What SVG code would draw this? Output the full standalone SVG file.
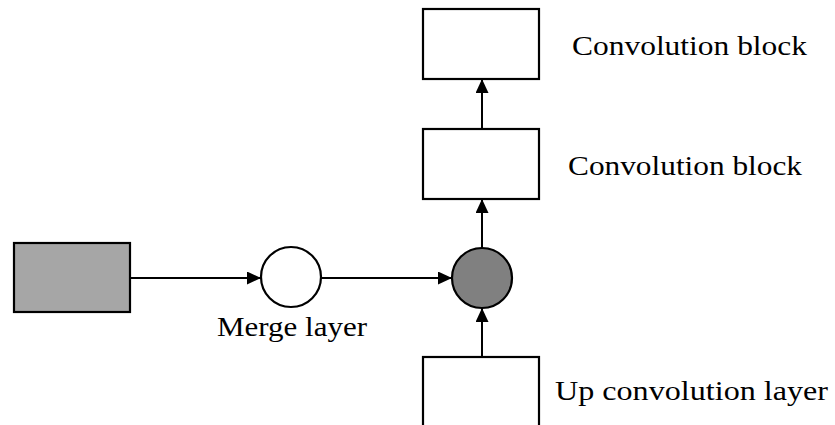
<svg xmlns="http://www.w3.org/2000/svg" width="835" height="425" viewBox="0 0 835 425">
  <style>
    .box { fill: #ffffff; stroke: #000000; stroke-width: 2.2; }
    .input { fill: #a6a6a6; stroke: #000000; stroke-width: 2.2; }
    .merge { fill: #ffffff; stroke: #000000; stroke-width: 2.2; }
    .sum { fill: #808080; stroke: #000000; stroke-width: 2.2; }
    .link { fill: none; stroke: #000000; stroke-width: 2; marker-end: url(#arrow); }
    .label { font-family: "Liberation Serif", "Times New Roman", serif; font-size: 27px; fill: #000000; }
  </style>
  <defs>
    <marker id="arrow" markerUnits="userSpaceOnUse" markerWidth="14" markerHeight="13" refX="14" refY="6.5" orient="auto">
      <path d="M0,0 L14,6.5 L0,13 z" fill="#000000"/>
    </marker>
  </defs>

  <rect width="835" height="425" fill="#ffffff"/>

  <!-- connectors -->
  <g id="connectors">
    <line class="link" x1="130" y1="278" x2="261" y2="278"/>
    <line class="link" x1="321" y1="278" x2="452" y2="278"/>
    <line class="link" x1="482" y1="357" x2="482" y2="308"/>
    <line class="link" x1="482" y1="248" x2="482" y2="199"/>
    <line class="link" x1="482" y1="129" x2="482" y2="79"/>
  </g>

  <!-- feature map input -->
  <g id="input">
    <rect class="input" x="14" y="243" width="116" height="69"/>
  </g>

  <!-- merge node -->
  <g id="merge">
    <circle class="merge" cx="291" cy="277" r="30"/>
    <text class="label" x="217" y="336" textLength="150" lengthAdjust="spacingAndGlyphs">Merge layer</text>
  </g>

  <!-- concatenation node -->
  <g id="concat">
    <circle class="sum" cx="482" cy="278" r="30"/>
  </g>

  <!-- upsampling path -->
  <g id="upconv">
    <rect class="box" x="423" y="357" width="116" height="80"/>
    <text class="label" x="555" y="400" textLength="273" lengthAdjust="spacingAndGlyphs">Up convolution layer</text>
  </g>

  <g id="conv1">
    <rect class="box" x="423" y="129" width="116" height="70"/>
    <text class="label" x="568" y="175" textLength="234" lengthAdjust="spacingAndGlyphs">Convolution block</text>
  </g>

  <g id="conv2">
    <rect class="box" x="423" y="9" width="116" height="70"/>
    <text class="label" x="572" y="55" textLength="235" lengthAdjust="spacingAndGlyphs">Convolution block</text>
  </g>
</svg>
